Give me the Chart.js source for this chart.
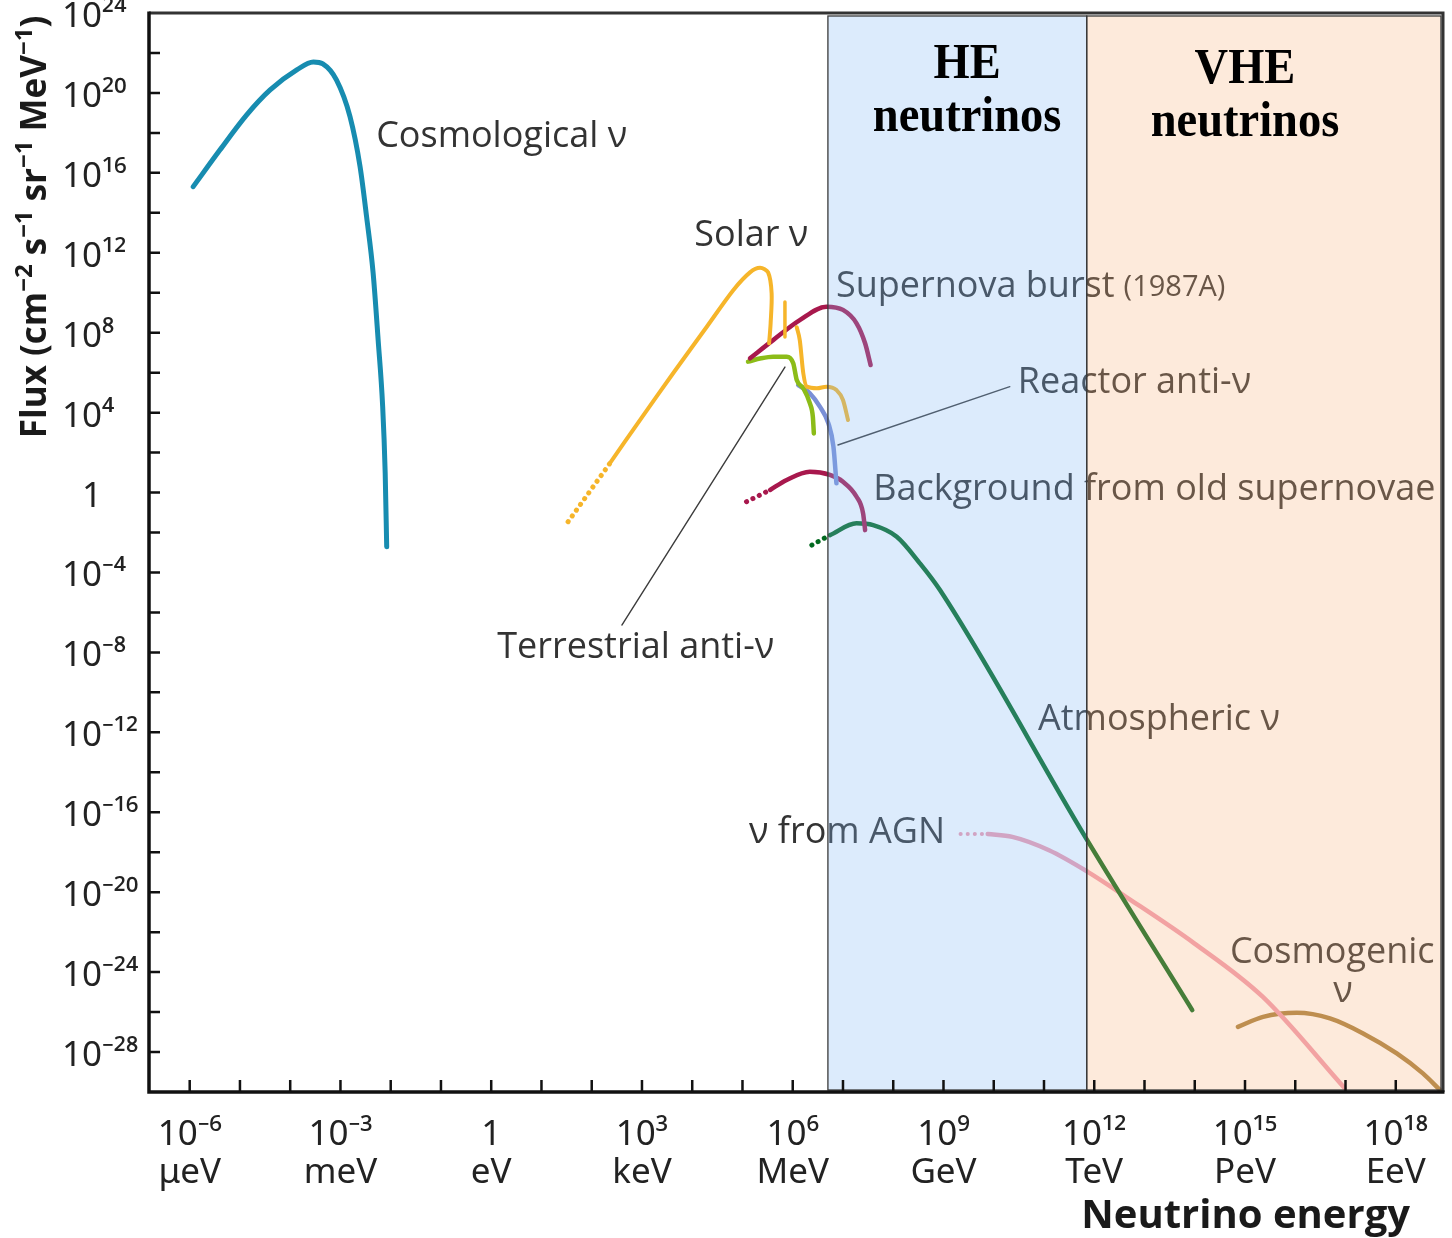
<!DOCTYPE html>
<html><head><meta charset="utf-8">
<script src="https://cdn.jsdelivr.net/npm/chart.js@4/dist/chart.umd.min.js"></script>
<style>html,body{margin:0;padding:0;background:#fff}#wrap{width:1452px;height:1238px}</style>
</head><body><div id="wrap"><canvas id="c" width="1452" height="1238"></canvas></div>
<script>
// x = log10(E / eV), y = log10(flux)
const xTickExps = [-6, -3, 0, 3, 6, 9, 12, 15, 18];
const xTickLabels = ['10⁻⁶', '10⁻³', '1', '10³', '10⁶', '10⁹', '10¹²', '10¹⁵', '10¹⁸'];
const xTickUnits = ['μeV', 'meV', 'eV', 'keV', 'MeV', 'GeV', 'TeV', 'PeV', 'EeV'];
const yTickExps = [24, 20, 16, 12, 8, 4, 0, -4, -8, -12, -16, -20, -24, -28];
const yTickLabels = ['10²⁴', '10²⁰', '10¹⁶', '10¹²', '10⁸', '10⁴', '\u20071', '10⁻⁴', '10⁻⁸', '10⁻¹²', '10⁻¹⁶', '10⁻²⁰', '10⁻²⁴', '10⁻²⁸'];

const cosmoX = [-5.93, -5.40, -4.87, -4.40, -3.87, -3.54, -3.35, -3.08, -2.81, -2.61, -2.48, -2.35, -2.25, -2.16, -2.11, -2.08];
const cosmoY = [15.31, 17.14, 18.89, 20.15, 21.15, 21.55, 21.45, 20.65, 18.81, 16.31, 13.80, 10.99, 7.63, 4.30, 0.98, -2.71];

const solarDotX = [1.53, 2.36];
const solarDotY = [-1.46, 1.46];
const solarPPX = [2.36, 2.96, 3.62, 4.29, 4.82, 5.15, 5.35, 5.51, 5.58, 5.56, 5.53];
const solarPPY = [1.46, 3.63, 5.97, 8.30, 10.14, 11.02, 11.25, 11.02, 9.97, 8.47, 7.47];
const solarBeX = [5.845, 5.845];
const solarBeY = [9.54, 7.78];
const solarB8X = [6.08, 6.14, 6.21, 6.28, 6.48, 6.67, 6.87, 7.00, 7.10];
const solarB8Y = [8.27, 7.63, 5.97, 5.30, 5.22, 5.30, 5.13, 4.63, 3.63];

const snX = [5.15, 5.61, 6.14, 6.67, 7.00, 7.27, 7.44, 7.55];
const snY = [6.72, 7.63, 8.63, 9.30, 9.14, 8.47, 7.47, 6.38];

const terrX = [5.11, 5.37, 5.61, 5.88, 6.01, 6.08, 6.21, 6.34, 6.40, 6.42];
const terrY = [6.55, 6.72, 6.80, 6.80, 6.47, 5.63, 5.22, 4.47, 3.79, 2.96];

const reactorX = [6.11, 6.34, 6.54, 6.71, 6.81, 6.87];
const reactorY = [5.38, 4.97, 4.30, 3.46, 2.29, 0.46];

const bgDotX = [5.08, 5.55];
const bgDotY = [-0.46, 0.13];
const bgX = [5.55, 5.88, 6.34, 6.74, 7.00, 7.27, 7.40, 7.44];
const bgY = [0.13, 0.63, 1.04, 0.88, 0.54, -0.21, -1.04, -1.88];

const atmDotX = [6.38, 6.74];
const atmDotY = [-2.63, -2.13];
const atmX = [6.74, 7.27, 7.60, 8.07, 8.53, 8.93, 11.82, 13.95];
const atmY = [-2.13, -1.54, -1.63, -2.21, -3.54, -4.88, -17.23, -25.90];

const agnDotX = [9.34, 9.88];
const agnDotY = [-17.09, -17.09];
const agnX = [9.88, 10.37, 11.10, 11.87, 12.63, 13.99, 15.35, 16.98];
const agnY = [-17.09, -17.23, -17.90, -18.98, -20.23, -22.56, -25.23, -29.80];

const cosmogenicX = [14.86, 15.36, 16.03, 16.69, 17.35, 18.02, 18.54, 18.88];
const cosmogenicY = [-26.74, -26.24, -26.04, -26.32, -27.07, -28.07, -29.07, -29.90];

const terrLeaderX = [2.60, 5.845];
const terrLeaderY = [-6.63, 6.28];
const reactorLeaderX = [6.90, 10.32];
const reactorLeaderY = [2.38, 5.30];

const labelTexts = ['Cosmological ν', 'Solar ν', 'Supernova burst', 'Reactor anti-ν', 'Background from old supernovae', 'Terrestrial anti-ν', 'Atmospheric ν', 'ν from AGN', 'Cosmogenic'];
const labelX = [-2.29, 4.04, 6.86, 10.48, 7.60, 0.12, 10.88, 5.13, 14.70];
const labelY = [17.79, 12.84, 10.29, 5.48, 0.13, -7.78, -11.39, -17.04, -23.05];
const snYearText = '(1987A)';
const cosmoNuText = 'ν';
const cosmoNuX = 16.95, cosmoNuY = -25.0;

const heRange = [6.70, 11.85];
const vheRange = [11.85, 18.90];
const bandYRange = [-29.9, 23.85];
const heText = ['HE', 'neutrinos'];
const vheText = ['VHE', 'neutrinos'];
const heTextX = 9.47, heTextY = [21.40, 18.74];
const vheTextX = 15.0, vheTextY = [21.15, 18.49];

const yMinorTicks = [22, 20, 18, 16, 14, 12, 10, 8, 6, 4, 2, 0, -2, -4, -6, -8, -10, -12, -14, -16, -18, -20, -22, -24, -26, -28];
const xMinorTicks = [-6, -5, -4, -3, -2, -1, 0, 1, 2, 3, 4, 5, 6, 7, 8, 9, 10, 11, 12, 13, 14, 15, 16, 17, 18];

const xTitle = 'Neutrino energy';
const yTitleParts = [['Flux (cm', false], ['−2', true], [' s', false], ['−1', true], [' sr', false], ['−1', true], [' MeV', false], ['−1', true], [')', false]];

const pts = (xs, ys) => xs.map((v, i) => ({x: v, y: ys[i]}));
const FONT = '"Open Sans", "Noto Sans", sans-serif';

function line(data, color, width, opts) {
  return Object.assign({
    data, borderColor: color, borderWidth: width, pointRadius: 0, fill: false,
    cubicInterpolationMode: 'monotone', borderCapStyle: 'round', borderJoinStyle: 'round'
  }, opts || {});
}
const dots = {borderDash: [0.1, 7], borderCapStyle: 'round'};

const C_COSMO = '#178cb0', C_SOLAR = '#f6b52a', C_SN = '#a8184d', C_TERR = '#8cbc18',
      C_REAC = '#7a8fd6', C_ATM = '#02691f', C_AGN = '#f09cb0', C_CGN = '#a8803e', C_LEAD = '#3c3c3c';

const datasets = [
  line(pts(cosmoX, cosmoY), C_COSMO, 5),
  line(pts(solarDotX, solarDotY), C_SOLAR, 5, dots),
  line(pts(solarPPX, solarPPY), C_SOLAR, 4, {cubicInterpolationMode: 'default', tension: 0.3}),
  line(pts(solarBeX, solarBeY), C_SOLAR, 3.5, {cubicInterpolationMode: 'default', tension: 0}),
  line(pts(solarB8X, solarB8Y), C_SOLAR, 4),
  line(pts(snX, snY), C_SN, 4.5),
  line(pts(terrX, terrY), C_TERR, 4.5),
  line(pts(reactorX, reactorY), C_REAC, 4.5),
  line(pts(bgDotX, bgDotY), C_SN, 5, dots),
  line(pts(bgX, bgY), C_SN, 4.5),
  line(pts(atmDotX, atmDotY), C_ATM, 5, dots),
  line(pts(atmX, atmY), C_ATM, 4.5),
  line(pts(agnDotX, agnDotY), C_AGN, 4, dots),
  line(pts(agnX, agnY), C_AGN, 4.5),
  line(pts(cosmogenicX, cosmogenicY), C_CGN, 4.5),
  line(pts(terrLeaderX, terrLeaderY), C_LEAD, 1.4, {cubicInterpolationMode: 'default', tension: 0}),
  line(pts(reactorLeaderX, reactorLeaderY), C_LEAD, 1.4, {cubicInterpolationMode: 'default', tension: 0})
];

function richWidth(ctx, parts, size, bold) {
  let w = 0;
  parts.forEach(([t, sup]) => {
    ctx.font = (bold ? 'bold ' : '') + (sup ? Math.round(size * 0.68) : size) + 'px ' + FONT;
    w += ctx.measureText(t).width;
  });
  return w;
}
function drawRich(ctx, parts, size, bold, sx, y) {
  let x = sx;
  parts.forEach(([t, sup]) => {
    ctx.font = (bold ? 'bold ' : '') + (sup ? Math.round(size * 0.68) : size) + 'px ' + FONT;
    ctx.fillText(t, x, sup ? y - size * 0.3 : y);
    x += ctx.measureText(t).width;
  });
}

const decor = {
  id: 'decor',
  beforeDraw(chart) {
    const c = chart.ctx; c.save(); c.fillStyle = '#fff'; c.fillRect(0, 0, chart.width, chart.height); c.restore();
  },
  afterDatasetsDraw(chart) {
    const {ctx, chartArea: a, scales: {x, y}} = chart;
    const X = v => x.getPixelForValue(v), Y = v => y.getPixelForValue(v);
    ctx.save();
    // annotation labels
    ctx.fillStyle = '#333'; ctx.textBaseline = 'middle'; ctx.textAlign = 'left';
    ctx.font = '36px ' + FONT;
    labelTexts.forEach((t, i) => ctx.fillText(t, X(labelX[i]), Y(labelY[i])));
    const snW = ctx.measureText(labelTexts[2]).width;
    ctx.font = '29px ' + FONT;
    ctx.fillText(snYearText, X(labelX[2]) + snW + 9, Y(labelY[2]) + 1);
    ctx.font = '36px ' + FONT; ctx.textAlign = 'center';
    ctx.fillText(cosmoNuText, X(cosmoNuX), Y(cosmoNuY));

    // translucent energy bands
    const top = Y(bandYRange[1]), bot = Y(bandYRange[0]);
    ctx.fillStyle = 'rgba(132,184,244,0.284)';
    ctx.fillRect(X(heRange[0]), top, X(heRange[1]) - X(heRange[0]), bot - top);
    ctx.fillStyle = 'rgba(248,180,126,0.28)';
    ctx.fillRect(X(vheRange[0]), top, X(vheRange[1]) - X(vheRange[0]), bot - top);
    ctx.strokeStyle = '#3a3a3a'; ctx.lineWidth = 1.3;
    ctx.strokeRect(X(heRange[0]), top, X(heRange[1]) - X(heRange[0]), bot - top);
    ctx.strokeRect(X(vheRange[0]), top, X(vheRange[1]) - X(vheRange[0]), bot - top);

    // band titles
    ctx.fillStyle = '#000'; ctx.textAlign = 'center'; ctx.textBaseline = 'middle';
    ctx.font = 'bold 50px "Liberation Serif", "Times New Roman", serif';
    const band = (lines, cx, ys) => lines.forEach((t, i) => {
      ctx.save(); ctx.translate(X(cx), Y(ys[i])); ctx.scale(0.93, 1); ctx.fillText(t, 0, 0); ctx.restore();
    });
    band(heText, heTextX, heTextY);
    band(vheText, vheTextX, vheTextY);

    // frame
    ctx.strokeStyle = '#333'; ctx.lineWidth = 3;
    ctx.beginPath(); ctx.moveTo(a.left, a.top); ctx.lineTo(a.right, a.top); ctx.lineTo(a.right, a.bottom); ctx.stroke();
    ctx.strokeStyle = '#111'; ctx.lineWidth = 3.5;
    ctx.beginPath(); ctx.moveTo(a.left, a.top - 1.5); ctx.lineTo(a.left, a.bottom); ctx.lineTo(a.right + 1.5, a.bottom); ctx.stroke();
    // inner ticks
    ctx.lineWidth = 2.5; ctx.strokeStyle = '#111';
    ctx.beginPath();
    yMinorTicks.forEach(v => { const py = Y(v); ctx.moveTo(a.left, py); ctx.lineTo(a.left + 11, py); });
    xMinorTicks.forEach(v => { const px = X(v); ctx.moveTo(px, a.bottom); ctx.lineTo(px, a.bottom - 12); });
    ctx.stroke();

    // axis titles
    ctx.fillStyle = '#1a1a1a'; ctx.textAlign = 'left'; ctx.textBaseline = 'middle';
    ctx.font = 'bold 40px ' + FONT;
    const xtW = ctx.measureText(xTitle).width;
    ctx.fillText(xTitle, 1410 - xtW, 1217);
    ctx.save();
    ctx.translate(36, 227); ctx.rotate(-Math.PI / 2);
    const w = richWidth(ctx, yTitleParts, 35, true);
    drawRich(ctx, yTitleParts, 35, true, -w / 2, 0);
    ctx.restore();
    ctx.restore();
  }
};

new Chart(document.getElementById('c'), {
  type: 'line',
  data: {datasets},
  plugins: [decor],
  options: {
    responsive: false, devicePixelRatio: 1, animation: false, parsing: false,
    layout: {padding: {left: 62, right: 9, top: 13, bottom: 0}},
    plugins: {legend: {display: false}, tooltip: {enabled: false}},
    scales: {
      x: {
        type: 'linear', min: -6.81, max: 18.94,
        afterBuildTicks: s => { s.ticks = xTickExps.map(v => ({value: v})); },
        afterFit: s => { s.height = 146; s.paddingLeft = 0; s.paddingRight = 0; },
        grid: {display: false}, border: {display: false},
        ticks: {
          autoSkip: false, maxRotation: 0, padding: 16, color: '#222',
          font: {family: '"Noto Sans", "Open Sans", sans-serif', size: 35, lineHeight: 1.08},
          callback: v => { const i = xTickExps.indexOf(v); return i >= 0 ? [xTickLabels[i], xTickUnits[i]] : ''; }
        }
      },
      y: {
        type: 'linear', min: -30, max: 24,
        afterBuildTicks: s => { s.ticks = yTickExps.map(v => ({value: v})); },
        afterFit: s => { s.width = 87; s.paddingTop = 0; s.paddingBottom = 0; },
        grid: {display: false, drawTicks: false}, border: {display: false},
        ticks: {
          autoSkip: false, crossAlign: 'far', padding: 0, color: '#222', labelOffset: 4,
          font: {family: '"Noto Sans", "Open Sans", sans-serif', size: 35},
          callback: v => { const i = yTickExps.indexOf(v); return i >= 0 ? yTickLabels[i] : ''; }
        }
      }
    }
  }
});
</script></body></html>
